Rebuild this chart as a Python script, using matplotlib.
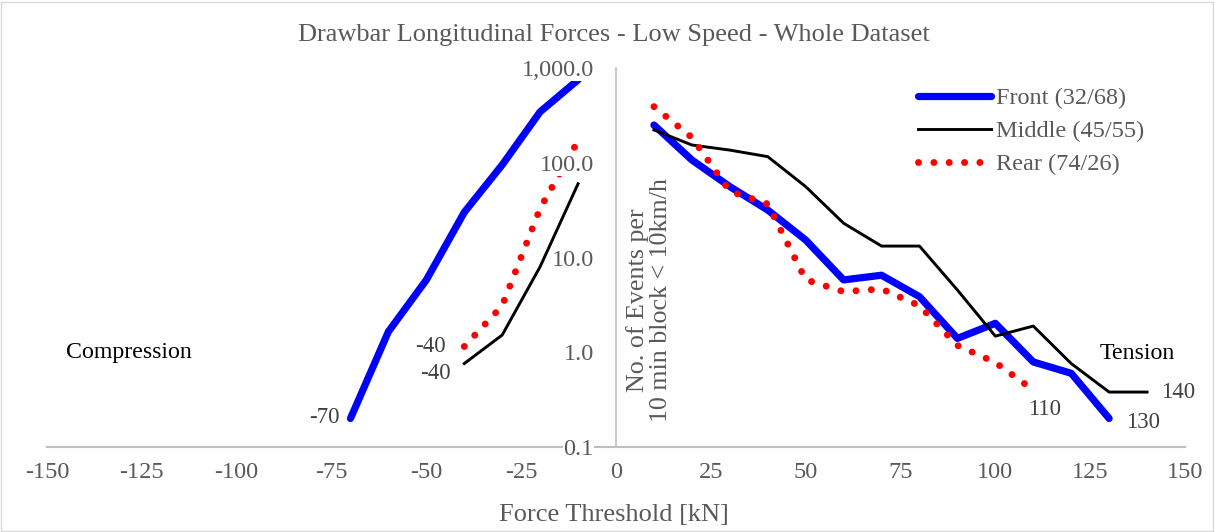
import matplotlib
matplotlib.use('Agg')
import matplotlib.pyplot as plt
from matplotlib.patches import Rectangle

plt.rcParams['font.family'] = ['Liberation Serif', 'DejaVu Serif']

# compression side (negative thresholds)
front_comp_x = [-70, -60, -50, -40, -30, -20, -10]
front_comp = [0.20, 1.65, 5.8, 30, 95, 345, 750]
mid_comp_x = [-40, -30, -20, -10]
mid_comp = [0.76, 1.52, 8.0, 60]
rear_comp_x = [-40, -30, -20, -10]
rear_comp = [1.15, 3.1, 33, 170]

# tension side
front_tens_x = [10, 20, 30, 40, 50, 60, 70, 80, 90, 100, 110, 120, 130]
front_tens = [250, 107, 56, 31.7, 15.3, 5.8, 6.5, 3.86, 1.40, 2.02, 0.79, 0.60, 0.20]
mid_tens_x = [10, 20, 30, 40, 50, 60, 70, 80, 90, 100, 110, 120, 130, 140]
mid_tens = [222, 154, 136, 116, 56, 23, 13.2, 13.2, 4.54, 1.48, 1.89, 0.76, 0.38, 0.38]
rear_tens_x = [10, 20, 30, 40, 50, 60, 70, 80, 90, 100, 110]
rear_tens = [391, 185, 50, 36.7, 5.83, 4.36, 4.65, 3.10, 1.18, 0.78, 0.40]

labels = ['Front (32/68)', 'Middle (45/55)', 'Rear (74/26)']
xticks = [-150, -125, -100, -75, -50, -25, 0, 25, 50, 75, 100, 125, 150]
yticks = [0.1, 1, 10, 100, 1000]
ytick_labels = ['0.1', '1.0', '10.0', '100.0', '1,000.0']

gray = '#595959'

fig = plt.figure(figsize=(12.15, 5.32), dpi=100)
ax = fig.add_axes([47/1215, (532-447)/532, (1185-47)/1215, (447-68)/532])

front_style = dict(color='#0000FF', lw=5.2, solid_capstyle='round', solid_joinstyle='round', zorder=1)
mid_style = dict(color='black', lw=2.1, solid_joinstyle='round', zorder=1)
rear_style = dict(color='#FF0000', lw=5.0, linestyle=(0, (0.01, 2.2)), dash_capstyle='round', zorder=1)

ax.plot(front_comp_x, front_comp, **front_style)
ax.plot(mid_comp_x, mid_comp, **mid_style)
ax.plot(rear_comp_x, rear_comp, **rear_style)
l1, = ax.plot(front_tens_x, front_tens, **front_style)
l2, = ax.plot(mid_tens_x, mid_tens, **mid_style)
l3, = ax.plot(rear_tens_x, rear_tens, **rear_style)

ax.set_yscale('log')
ax.set_xlim(-150, 150)
ax.set_ylim(0.1, 1000)
ax.minorticks_off()
ax.set_xticks(xticks)
ax.set_xticklabels([str(v) for v in xticks])
ax.set_yticks(yticks)
ax.tick_params(axis='x', length=0, pad=11, labelsize=17.5, labelcolor=gray)
ax.tick_params(axis='y', length=0, pad=16, labelsize=17.5, labelcolor=gray)
ax.set_yticklabels(ytick_labels)
ax.yaxis.set_zorder(3)
ax.xaxis.set_zorder(3)

for s in ['top', 'right']:
    ax.spines[s].set_visible(False)
ax.spines['left'].set_position(('data', 0))
ax.spines['left'].set_color('#BFBFBF')
ax.spines['left'].set_linewidth(1.2)
ax.spines['bottom'].set_color('#BFBFBF')
ax.spines['bottom'].set_linewidth(1.5)
ax.spines['bottom'].set_zorder(0.5)
ax.patch.set_visible(False)

# data labels at series ends
lab_style = dict(textcoords='offset points', fontsize=16.5, color='#404040')
ax.annotate('-70', (front_comp_x[0], front_comp[0]), xytext=(-8, 1), ha='right', va='center', **lab_style)
ax.annotate('-40', (rear_comp_x[0], rear_comp[0]), xytext=(-13, 0), ha='right', va='center', **lab_style)
ax.annotate('-40', (mid_comp_x[0], mid_comp[0]), xytext=(-10, -7), ha='right', va='center', **lab_style)
ax.annotate('110', (rear_tens_x[-1], rear_tens[-1]), xytext=(8, -14), ha='center', va='center', **lab_style)
ax.annotate('130', (front_tens_x[-1], front_tens[-1]), xytext=(12, -3), ha='left', va='center', **lab_style)
ax.annotate('140', (mid_tens_x[-1], mid_tens[-1]), xytext=(10, 0), ha='left', va='center', **lab_style)

ax.text(-145, 1.0, 'Compression', fontsize=17.2, color='black', va='center', ha='left')
ax.text(127.5, 0.98, 'Tension', fontsize=17.2, color='black', va='center', ha='left')

leg = ax.legend([l1, l2, l3], labels, loc='upper left', bbox_to_anchor=((918-47)/1138, (447-87)/379),
                frameon=False, fontsize=17.5, handlelength=3.0, handletextpad=0.2,
                labelspacing=0.46, borderaxespad=0, borderpad=0)
for t in leg.get_texts():
    t.set_color(gray)

fig.text(649/1215, 1-300/532, 'No. of Events per\n10 min block < 10km/h', rotation=90,
         ha='center', va='center', multialignment='center', fontsize=18.7, color=gray,
         linespacing=1.05)
fig.text(614/1215, 1-35/532, 'Drawbar Longitudinal Forces - Low Speed - Whole Dataset',
         ha='center', va='center', fontsize=19, color=gray)
fig.text(614/1215, 1-515/532, 'Force Threshold [kN]', ha='center', va='center', fontsize=19, color=gray)

fig.patches.append(Rectangle((0.001, 0.002), 0.997, 0.995, transform=fig.transFigure,
                             fill=False, edgecolor='#D9D9D9', lw=1))

# white boxes behind the y labels (they cover the lines as in the original)
fig.canvas.draw()
for lab in ax.get_yticklabels():
    lab.set_bbox(dict(facecolor='white', edgecolor='none', pad=0.3))

fig.savefig('out.png', dpi=100)
